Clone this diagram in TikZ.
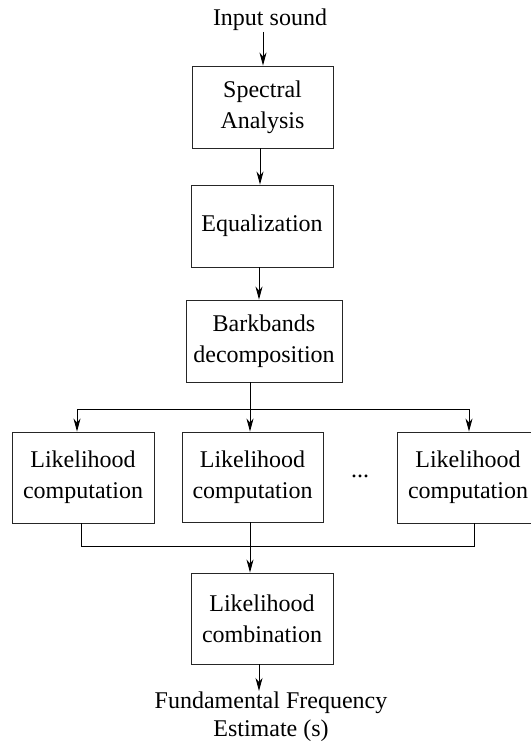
\documentclass[tikz,border=0pt]{standalone}
\usepackage{fontspec}
\setmainfont{Liberation Serif}
\usetikzlibrary{arrows.meta}
\begin{document}
\begin{tikzpicture}[x=1pt,y=-1pt,
  every node/.style={font=\fontsize{24}{31}\selectfont, align=center},
  block/.style={draw=black!85, line width=0.9pt, inner sep=0pt},
  label/.style={inner sep=1pt},
  link/.style={line width=0.9pt, black},
  arr/.style={link, -{Stealth[length=13pt,width=7pt,inset=4pt]}}]
\useasboundingbox (0,0) rectangle (530,743);

% processing chain
\node[label, anchor=south] (in) at (270,32) {Input sound};
\node[block, minimum width=141pt, minimum height=82pt] (sa) at (262.5,107) {Spectral\\Analysis};
\node[block, minimum width=142pt, minimum height=82pt] (eq) at (262,226) {Equalization};
\node[block, minimum width=156pt, minimum height=82pt] (bb) at (264,341) {Barkbands\\decomposition};

% parallel likelihood stages
\node[block, minimum width=142pt, minimum height=91pt] (l1) at (83,477.5) {Likelihood\\computation};
\node[block, minimum width=141pt, minimum height=90pt] (l2) at (252.5,477) {Likelihood\\computation};
\node[block, minimum width=142pt, minimum height=91pt] (l3) at (468,477.5) {Likelihood\\computation};
\node (dots) at (360,476) {...};

\node[block, minimum width=142pt, minimum height=91pt] (lc) at (262,618.5) {Likelihood\\combination};
\node[label, anchor=north, font=\fontsize{24}{28}\selectfont] (out) at (271,691) {Fundamental Frequency\\Estimate (s)};

% branch and merge points
\coordinate (split) at (250,409);
\coordinate (merge) at (250,546);

% connectors
\draw[arr] (in.south -| 263,0) -- (sa.north -| 263,0);
\draw[arr] (sa.south -| 260,0) -- (eq.north -| 260,0);
\draw[arr] (eq.south -| 259,0) -- (bb.north -| 259,0);
\draw[link] (bb.south -| split) -- (split);
\draw[arr] (split) -- (l2.north -| split);
\draw[arr] (split) -| ([xshift=-6pt]l1.north);
\draw[arr] (split) -| ([xshift=1pt]l3.north);
\draw[link] ([xshift=-2pt]l1.south) |- (merge);
\draw[link] ([xshift=6pt]l3.south) |- (merge);
\draw[link] (l2.south -| merge) -- (merge);
\draw[arr] (merge) -- (lc.north -| merge);
\draw[arr] (lc.south -| 259,0) -- (out.north -| 259,0);
\end{tikzpicture}
\end{document}
